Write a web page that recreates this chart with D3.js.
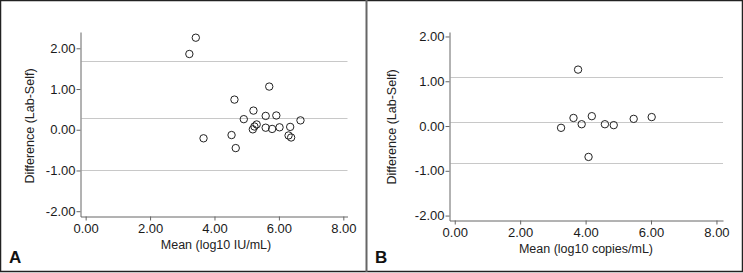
<!DOCTYPE html>
<html>
<head>
<meta charset="utf-8">
<script src="https://cdn.jsdelivr.net/npm/d3@7"></script>
<style>
  body { margin: 0; background: #fff; }
  svg { display: block; font-family: "Liberation Sans", Arial, sans-serif; }
  .tick text { fill: #1a1a1a; font-size: 13px; }
  .domain, .tick line { stroke: #666; }
</style>
</head>
<body>
<svg width="743" height="273"></svg>
<script>
// panel A: HBV (IU/mL)
var meanA = [3.42, 3.22, 3.66, 4.62, 4.53, 4.66, 4.91, 5.21, 5.19, 5.24, 5.31,
             5.59, 5.59, 5.70, 5.79, 5.92, 6.02, 6.35, 6.30, 6.38, 6.67];
var diffA = [2.26, 1.86, -0.21, 0.74, -0.13, -0.45, 0.26, 0.47, 0.01, 0.08, 0.13,
             0.34, 0.05, 1.06, 0.02, 0.35, 0.06, 0.07, -0.14, -0.19, 0.23];
var linesA = [1.70, 0.29, -1.00];

// panel B: HIV (copies/mL)
var meanB = [3.77, 3.25, 3.63, 3.88, 4.19, 4.09, 4.59, 4.86, 5.47, 6.02];
var diffB = [1.26, -0.04, 0.18, 0.04, 0.22, -0.69, 0.04, 0.02, 0.16, 0.20];
var linesB = [1.10, 0.08, -0.82];

var xTicks = [0, 2, 4, 6, 8];
var yTicks = [-2, -1, 0, 1, 2];

var svg = d3.select("svg");
var fmt = function (d) { return d.toFixed(2); };

function panel(opt) {
  var x = d3.scaleLinear().domain(opt.xDom).range(opt.xRange);
  var y = d3.scaleLinear().domain(opt.yDom).range(opt.yRange);
  var g = svg.append("g");

  g.selectAll(".ref").data(opt.lines).enter().append("line")
    .attr("x1", opt.xRange[0] + 1).attr("x2", opt.xRange[1])
    .attr("y1", function (d) { return Math.round(y(d)) + 0.5; })
    .attr("y2", function (d) { return Math.round(y(d)) + 0.5; })
    .attr("stroke", "#c8c8c8").attr("stroke-width", 1);

  var xAxis = d3.axisBottom(x).tickValues(xTicks).tickFormat(fmt)
    .tickSizeInner(4).tickSizeOuter(0).tickPadding(3);
  g.append("g").attr("transform", "translate(0," + opt.yRange[0] + ")").call(xAxis);

  var yAxis = d3.axisLeft(y).tickValues(yTicks).tickFormat(fmt)
    .tickSizeInner(4).tickSizeOuter(0).tickPadding(1);
  g.append("g").attr("transform", "translate(" + opt.xRange[0] + ",0)").call(yAxis);

  g.selectAll("circle").data(opt.mean).enter().append("circle")
    .attr("cx", function (d) { return x(d); })
    .attr("cy", function (d, i) { return y(opt.diff[i]); })
    .attr("r", 3.7)
    .attr("fill", "none").attr("stroke", "#222").attr("stroke-width", 1);

  g.append("text")
    .attr("transform", "translate(" + opt.yLabelX + "," + opt.yLabelY + ") rotate(-90)")
    .attr("text-anchor", "middle").attr("font-size", 12.5).attr("fill", "#222")
    .text("Difference (Lab-Self)");

  g.append("text")
    .attr("x", opt.xLabelX).attr("y", opt.xLabelY)
    .attr("text-anchor", "middle").attr("font-size", 12.5).attr("fill", "#222")
    .text(opt.xLabel);

  g.append("text")
    .attr("x", opt.letterX).attr("y", 263)
    .attr("font-size", 17).attr("font-weight", "bold").attr("fill", "#111")
    .text(opt.letter);
}

panel({
  mean: meanA, diff: diffA, lines: linesA,
  xDom: [-0.16, 8.13], xRange: [80.5, 347.5],
  yDom: [-2.13, 2.4], yRange: [216.5, 32],
  yLabelX: 34, yLabelY: 126,
  xLabel: "Mean (log10 IU/mL)", xLabelX: 216, xLabelY: 249,
  letter: "A", letterX: 9
});

panel({
  mean: meanB, diff: diffB, lines: linesB,
  xDom: [-0.16, 8.2], xRange: [449.5, 723],
  yDom: [-2.11, 2.1], yRange: [220.5, 32],
  yLabelX: 396, yLabelY: 127,
  xLabel: "Mean (log10 copies/mL)", xLabelX: 586, xLabelY: 253,
  letter: "B", letterX: 375
});

// frame
svg.append("rect").attr("x", 0.5).attr("y", 0.5).attr("width", 742).attr("height", 271)
  .attr("fill", "none").attr("stroke", "#222").attr("stroke-width", 1.5);
svg.append("line").attr("x1", 366.5).attr("x2", 366.5).attr("y1", 0).attr("y2", 272)
  .attr("stroke", "#666").attr("stroke-width", 2);
</script>
</body>
</html>
